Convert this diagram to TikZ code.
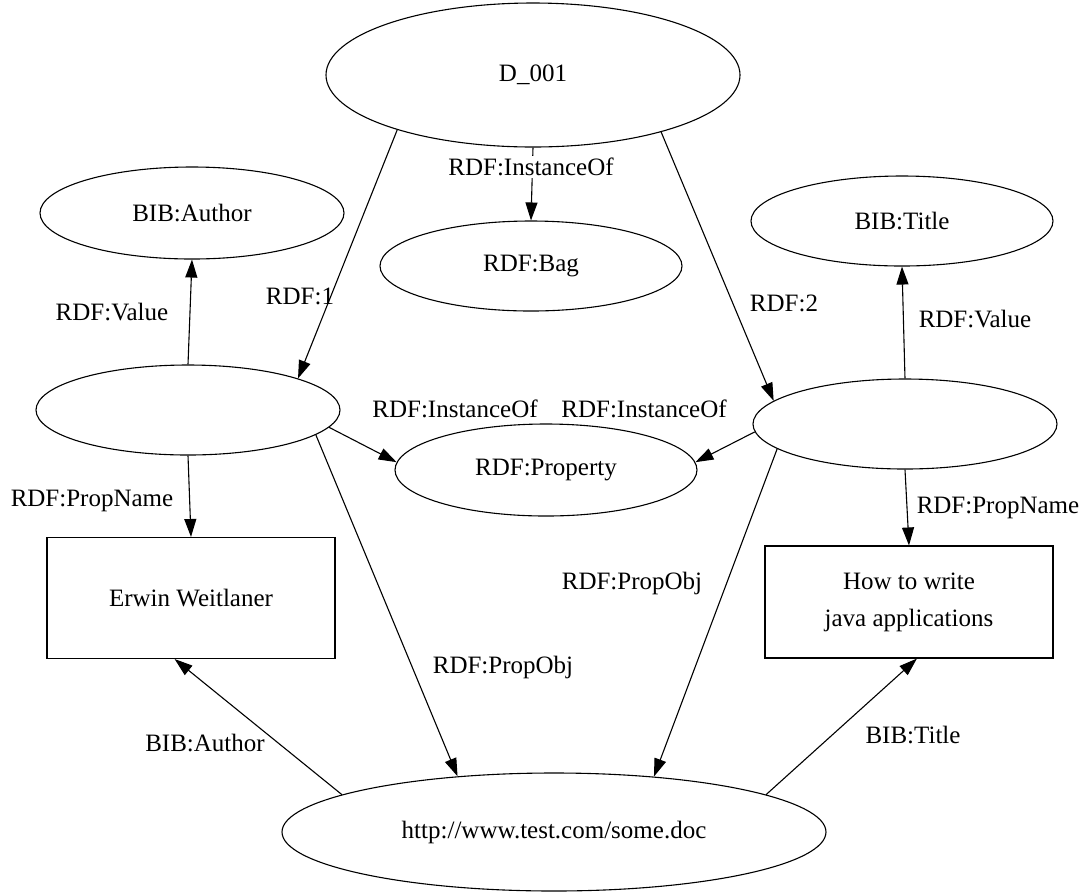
\documentclass[tikz,border=0pt]{standalone}
\usepackage{fontspec}
\setmainfont{Liberation Serif}
\usetikzlibrary{shapes.geometric,arrows.meta}
\tikzset{
  rdfres/.style={draw, ellipse, inner sep=0pt, line width=0.55pt},
  rdflit/.style={draw, rectangle, inner sep=0pt, line width=0.55pt, align=center},
  rdflbl/.style={inner sep=1pt},
  rdfarc/.style={line width=0.55pt, -{Triangle[length=9pt,width=6pt]}}
}
\begin{document}
\begin{tikzpicture}[x=0.5pt,y=-0.5pt,font=\fontsize{12.5}{15}\selectfont]
  \useasboundingbox (0,0) rectangle (1089,891);
  % resources
  \node[rdfres, minimum width=207pt, minimum height=72pt] (d001) at (533,75) {D\_001};
  \node[rdfres, minimum width=152pt, minimum height=46pt] (author) at (192,213) {BIB:Author};
  \node[rdfres, minimum width=151pt, minimum height=45pt] (bag) at (531,266) {RDF:Bag};
  \node[rdfres, minimum width=151pt, minimum height=45pt] (title) at (902,221) {BIB:Title};
  \node[rdfres, minimum width=152pt, minimum height=45pt] (blank1) at (188,410) {};
  \node[rdfres, minimum width=152pt, minimum height=45pt] (blank2) at (905,424) {};
  \node[rdfres, minimum width=151pt, minimum height=46pt] (prop) at (546,470) {RDF:Property};
  \node[rdfres, minimum width=272pt, minimum height=59pt] (http) at (554,832) {http://www.test.com/some.doc};
  % literals
  \node[rdflit, minimum width=144pt, minimum height=60.5pt] (erwin) at (191,598) {Erwin Weitlaner};
  \node[rdflit, minimum width=144pt, minimum height=56pt] (how) at (909,602) {How to write\\[3.5pt]java applications};
  % arcs
  \draw[rdfarc] (d001.202) -- (blank1.16);
  \draw[rdfarc] (d001.south) -- (bag.north);
  \draw[rdfarc] (d001.336) -- (blank2.170);
  \draw[rdfarc] (blank1.north) -- (author.south);
  \draw[rdfarc] (blank1.south) -- (erwin.north);
  \draw[rdfarc] (blank1.353) -- (prop.177);
  \draw[rdfarc] (blank1.349) -- (http.150);
  \draw[rdfarc] (blank2.north) -- (title.south);
  \draw[rdfarc] (blank2.south) -- (how.north);
  \draw[rdfarc] (blank2.183) -- (prop.3);
  \draw[rdfarc] (blank2.191) -- (http.29);
  \draw[rdfarc] (http.170) -- (erwin.255);
  \draw[rdfarc] (http.10) -- (how.278);
  % arc labels
  \node[rdflbl] (l1) at (300,296) {RDF:1};
  \node[rdflbl, fill=white] (lbag) at (531,167) {RDF:InstanceOf};
  \node[rdflbl] (l2) at (784,303) {RDF:2};
  \node[rdflbl] (lval1) at (112,312) {RDF:Value};
  \node[rdflbl] (lval2) at (975,319) {RDF:Value};
  \node[rdflbl] (linst1) at (455,409) {RDF:InstanceOf};
  \node[rdflbl] (linst2) at (644,409) {RDF:InstanceOf};
  \node[rdflbl] (lname1) at (92,501) {RDF:PropName};
  \node[rdflbl] (lname2) at (998,508) {RDF:PropName};
  \node[rdflbl] (lobj2) at (632,583) {RDF:PropObj};
  \node[rdflbl] (lobj1) at (503,667) {RDF:PropObj};
  \node[rdflbl] (lauth) at (205,743) {BIB:Author};
  \node[rdflbl] (ltitle) at (913,735) {BIB:Title};
\end{tikzpicture}
\end{document}
